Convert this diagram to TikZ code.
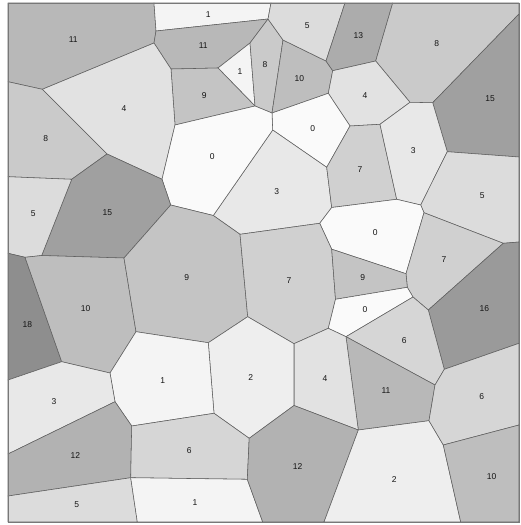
\documentclass[tikz,border=0pt]{standalone}
\usepackage{fontspec}
\setmainfont{Liberation Sans}

\definecolor{vredge}{RGB}{96,96,96}
\definecolor{vrframe}{RGB}{120,120,120}
\definecolor{vrtext}{RGB}{20,20,20}

\begin{document}
\begin{tikzpicture}[
  x=1pt,
  y=-1pt,
  every node/.style={inner sep=0pt, outer sep=0pt},
  cell/.code={\pgfmathsetmacro\cellshade{2+2.35*#1}%
    \tikzset{draw=vredge, line width=0.55pt, line join=round, fill=black!\cellshade}},
  celllabel/.style={font=\fontsize{8.5}{9}\selectfont, text=vrtext},
  frame/.style={draw=vrframe, line width=0.8pt}
]

  \path[use as bounding box] (0,0) rectangle (520,525);

  % plot corners
  \coordinate (tl) at (8,3);
  \coordinate (tr) at (519,3);
  \coordinate (bl) at (8,522);
  \coordinate (br) at (519,522);

  % cell vertices (pixel positions)
  \coordinate (v1) at (154,3);
  \coordinate (v2) at (156,31);
  \coordinate (v3) at (154,43);
  \coordinate (v4) at (171,69);
  \coordinate (v5) at (268,19);
  \coordinate (v6) at (271,3);
  \coordinate (v7) at (250,43);
  \coordinate (v8) at (283,40);
  \coordinate (v9) at (218,68);
  \coordinate (v10) at (255,106);
  \coordinate (v11) at (272,113);
  \coordinate (v12) at (326,61);
  \coordinate (v13) at (332.7,70.7);
  \coordinate (v14) at (328.3,93.3);
  \coordinate (v15) at (345,3);
  \coordinate (v16) at (392.7,3);
  \coordinate (v17) at (375.7,61);
  \coordinate (v18) at (519,14);
  \coordinate (v19) at (432.7,102.7);
  \coordinate (v20) at (410,102.3);
  \coordinate (v21) at (380,124.3);
  \coordinate (v22) at (350,126);
  \coordinate (v24) at (326.7,167.3);
  \coordinate (v25) at (272.7,130);
  \coordinate (v26) at (331.7,207.5);
  \coordinate (v27) at (319.7,223.3);
  \coordinate (v28) at (240,234.3);
  \coordinate (v29) at (213.3,215.5);
  \coordinate (v30) at (175,125);
  \coordinate (v31) at (170.7,205);
  \coordinate (v32) at (162,179.3);
  \coordinate (v33) at (107,154);
  \coordinate (v34) at (42.3,89.3);
  \coordinate (v35) at (8,81.7);
  \coordinate (v36) at (71.7,179.3);
  \coordinate (v37) at (8,176.7);
  \coordinate (v39) at (124,258);
  \coordinate (v40) at (41.7,255.5);
  \coordinate (v41) at (25,257.3);
  \coordinate (v42) at (8,253.3);
  \coordinate (v43) at (61.7,361.7);
  \coordinate (v44) at (8,380);
  \coordinate (v45) at (136,331.7);
  \coordinate (v46) at (110,373);
  \coordinate (v47) at (208.3,342.7);
  \coordinate (v48) at (247.7,316.7);
  \coordinate (v50) at (331.7,249.2);
  \coordinate (v51) at (335.5,299.3);
  \coordinate (v52) at (328.3,328.3);
  \coordinate (v53) at (294,343.7);
  \coordinate (v54) at (396.7,199.3);
  \coordinate (v55) at (420.7,205);
  \coordinate (v56) at (424,212.7);
  \coordinate (v57) at (406,273.7);
  \coordinate (v59) at (447.3,151.7);
  \coordinate (v61) at (519,157);
  \coordinate (v62) at (519,242);
  \coordinate (v63) at (503.3,243.3);
  \coordinate (v64) at (428.3,310);
  \coordinate (v65) at (413,297);
  \coordinate (v66) at (407.3,287.3);
  \coordinate (v67) at (519,343.3);
  \coordinate (v68) at (444.3,369.3);
  \coordinate (v70) at (346,336.7);
  \coordinate (v72) at (435,385);
  \coordinate (v73) at (429,420.7);
  \coordinate (v74) at (358.3,430);
  \coordinate (v75) at (294,405.5);
  \coordinate (v76) at (249.2,438.3);
  \coordinate (v77) at (214,413.3);
  \coordinate (v78) at (131.7,426);
  \coordinate (v79) at (115,401.7);
  \coordinate (v80) at (8,454);
  \coordinate (v81) at (130.7,477.7);
  \coordinate (v82) at (8,496);
  \coordinate (v83) at (137.3,522);
  \coordinate (v85) at (247.3,479.3);
  \coordinate (v86) at (262.7,522);
  \coordinate (v87) at (324,522);
  \coordinate (v88) at (443.3,445);
  \coordinate (v89) at (460.7,522);
  \coordinate (v90) at (519,425);

  % top row
  \path[cell=11] (tl) -- (v1) -- (v2) -- (v3) -- (v34) -- (v35) -- cycle;
  \path[cell=1] (v1) -- (v6) -- (v5) -- (v2) -- cycle;
  \path[cell=11] (v2) -- (v5) -- (v7) -- (v9) -- (v4) -- (v3) -- cycle;
  \path[cell=1] (v7) -- (v10) -- (v9) -- cycle;
  \path[cell=8] (v7) -- (v5) -- (v8) -- (v11) -- (v10) -- cycle;
  \path[cell=10] (v8) -- (v12) -- (v13) -- (v14) -- (v11) -- cycle;
  \path[cell=5] (v6) -- (v15) -- (v12) -- (v8) -- (v5) -- cycle;
  \path[cell=13] (v15) -- (v16) -- (v17) -- (v13) -- (v12) -- cycle;
  \path[cell=8] (v16) -- (tr) -- (v18) -- (v19) -- (v20) -- (v17) -- cycle;
  \path[cell=4] (v13) -- (v17) -- (v20) -- (v21) -- (v22) -- (v14) -- cycle;
  \path[cell=15] (v19) -- (v18) -- (v61) -- (v59) -- cycle;
  \path[cell=0] (v11) -- (v14) -- (v22) -- (v24) -- (v25) -- cycle;
  \path[cell=9] (v4) -- (v9) -- (v10) -- (v30) -- cycle;
  \path[cell=4] (v3) -- (v4) -- (v30) -- (v32) -- (v33) -- (v34) -- cycle;

  % upper middle
  \path[cell=3] (v25) -- (v24) -- (v26) -- (v27) -- (v28) -- (v29) -- cycle;
  \path[cell=0] (v30) -- (v10) -- (v11) -- (v25) -- (v29) -- (v31) -- (v32) -- cycle;
  \path[cell=8] (v35) -- (v34) -- (v33) -- (v36) -- (v37) -- cycle;
  \path[cell=15] (v33) -- (v32) -- (v31) -- (v39) -- (v40) -- (v36) -- cycle;
  \path[cell=5] (v37) -- (v36) -- (v40) -- (v41) -- (v42) -- cycle;
  \path[cell=7] (v24) -- (v22) -- (v21) -- (v54) -- (v26) -- cycle;
  \path[cell=3] (v21) -- (v20) -- (v19) -- (v59) -- (v55) -- (v54) -- cycle;
  \path[cell=5] (v59) -- (v61) -- (v62) -- (v63) -- (v56) -- (v55) -- cycle;
  \path[cell=0] (v26) -- (v54) -- (v55) -- (v56) -- (v57) -- (v50) -- (v27) -- cycle;

  % lower middle
  \path[cell=18] (v42) -- (v41) -- (v43) -- (v44) -- cycle;
  \path[cell=10] (v41) -- (v40) -- (v39) -- (v45) -- (v46) -- (v43) -- cycle;
  \path[cell=9] (v31) -- (v29) -- (v28) -- (v48) -- (v47) -- (v45) -- (v39) -- cycle;
  \path[cell=7] (v28) -- (v27) -- (v50) -- (v51) -- (v52) -- (v53) -- (v48) -- cycle;
  \path[cell=7] (v56) -- (v63) -- (v64) -- (v65) -- (v66) -- (v57) -- cycle;
  \path[cell=16] (v63) -- (v62) -- (v67) -- (v68) -- (v64) -- cycle;
  \path[cell=9] (v50) -- (v57) -- (v66) -- (v51) -- cycle;
  \path[cell=0] (v51) -- (v66) -- (v65) -- (v70) -- (v52) -- cycle;
  \path[cell=6] (v65) -- (v64) -- (v68) -- (v72) -- (v70) -- cycle;
  \path[cell=11] (v70) -- (v72) -- (v73) -- (v74) -- cycle;
  \path[cell=4] (v52) -- (v70) -- (v74) -- (v75) -- (v53) -- cycle;
  \path[cell=2] (v48) -- (v53) -- (v75) -- (v76) -- (v77) -- (v47) -- cycle;
  \path[cell=1] (v46) -- (v45) -- (v47) -- (v77) -- (v78) -- (v79) -- cycle;
  \path[cell=3] (v44) -- (v43) -- (v46) -- (v79) -- (v80) -- cycle;

  % bottom row
  \path[cell=12] (v80) -- (v79) -- (v78) -- (v81) -- (v82) -- cycle;
  \path[cell=5] (v82) -- (v81) -- (v83) -- (bl) -- cycle;
  \path[cell=6] (v78) -- (v77) -- (v76) -- (v85) -- (v81) -- cycle;
  \path[cell=1] (v81) -- (v85) -- (v86) -- (v83) -- cycle;
  \path[cell=12] (v76) -- (v75) -- (v74) -- (v87) -- (v86) -- (v85) -- cycle;
  \path[cell=2] (v74) -- (v73) -- (v88) -- (v89) -- (v87) -- cycle;
  \path[cell=6] (v72) -- (v68) -- (v67) -- (v90) -- (v88) -- (v73) -- cycle;
  \path[cell=10] (v88) -- (v90) -- (br) -- (v89) -- cycle;

  \draw[frame] (tl) rectangle (br);

  % labels
  \node[celllabel] (l11a) at (73.3,39.3) {11};
  \node[celllabel] (l1a) at (208.3,15) {1};
  \node[celllabel] (l11b) at (203.3,46) {11};
  \node[celllabel] (l1b) at (240,71.7) {1};
  \node[celllabel] (l8a) at (265,65) {8};
  \node[celllabel] (l10a) at (299.3,78.3) {10};
  \node[celllabel] (l5a) at (307.3,25.7) {5};
  \node[celllabel] (l13) at (358.3,35.7) {13};
  \node[celllabel] (l8b) at (436.7,44) {8};
  \node[celllabel] (l4a) at (365,95.7) {4};
  \node[celllabel] (l15a) at (490,98.3) {15};
  \node[celllabel] (l0a) at (312.7,128.3) {0};
  \node[celllabel] (l9a) at (204.3,95.7) {9};
  \node[celllabel] (l4b) at (124,108.3) {4};
  \node[celllabel] (l3a) at (276.7,191.7) {3};
  \node[celllabel] (l0b) at (212.3,156.7) {0};
  \node[celllabel] (l8c) at (45.7,138.3) {8};
  \node[celllabel] (l15b) at (107.3,212.3) {15};
  \node[celllabel] (l5b) at (33.3,214) {5};
  \node[celllabel] (l7a) at (360,170) {7};
  \node[celllabel] (l3b) at (413.3,150.7) {3};
  \node[celllabel] (l5c) at (482.3,196) {5};
  \node[celllabel] (l0c) at (375.3,232.7) {0};
  \node[celllabel] (l18) at (27.3,325) {18};
  \node[celllabel] (l10b) at (85.7,308.3) {10};
  \node[celllabel] (l9b) at (186.7,277.7) {9};
  \node[celllabel] (l7b) at (289,281) {7};
  \node[celllabel] (l7c) at (444,259.3) {7};
  \node[celllabel] (l16) at (484.3,309) {16};
  \node[celllabel] (l9c) at (362.7,277.3) {9};
  \node[celllabel] (l0d) at (365,310) {0};
  \node[celllabel] (l6a) at (404.3,340.7) {6};
  \node[celllabel] (l11c) at (386,391) {11};
  \node[celllabel] (l4c) at (325,379) {4};
  \node[celllabel] (l2a) at (250.7,377.3) {2};
  \node[celllabel] (l1c) at (162.7,380.7) {1};
  \node[celllabel] (l3c) at (54,401.7) {3};
  \node[celllabel] (l12a) at (75.3,456) {12};
  \node[celllabel] (l5d) at (76.7,505) {5};
  \node[celllabel] (l6b) at (189.3,451) {6};
  \node[celllabel] (l1d) at (195,502.3) {1};
  \node[celllabel] (l12b) at (297.7,466.7) {12};
  \node[celllabel] (l2b) at (394.3,479.3) {2};
  \node[celllabel] (l6c) at (481.7,396.7) {6};
  \node[celllabel] (l10c) at (491.7,476.7) {10};

\end{tikzpicture}
\end{document}
